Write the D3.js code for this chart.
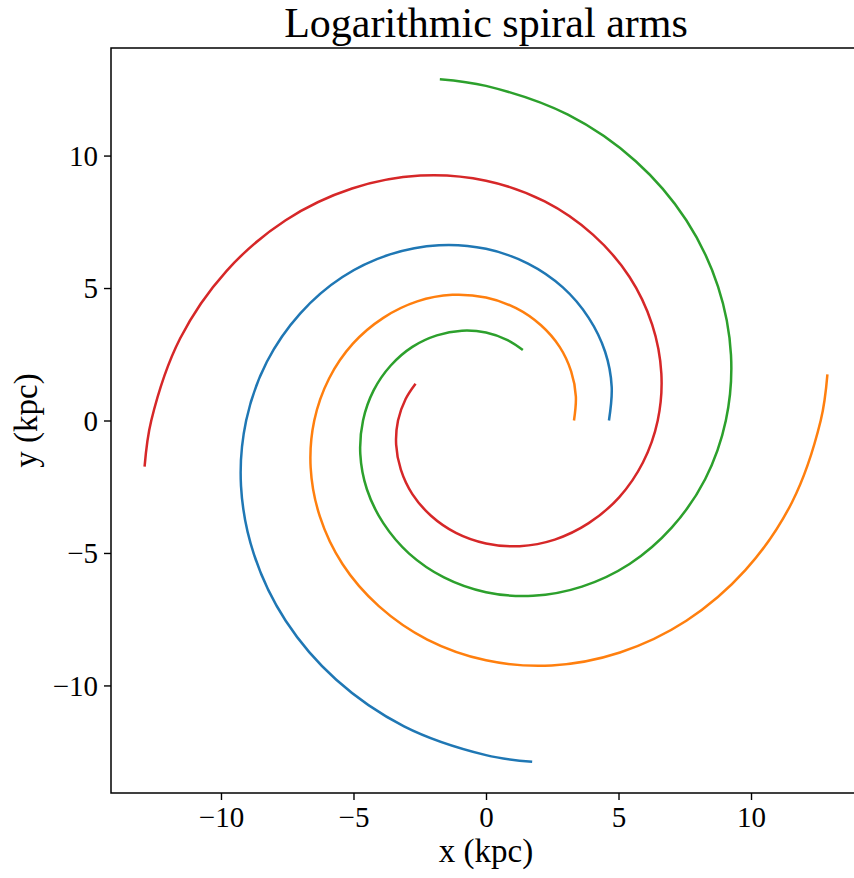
<!DOCTYPE html>
<html>
<head>
<meta charset="utf-8">
<script src="https://cdn.jsdelivr.net/npm/d3@7"></script>
<style>
  html, body { margin: 0; padding: 0; background: #fff; }
  svg { display: block; }
  text { font-family: "Liberation Serif", "Times New Roman", serif; fill: #000; }
</style>
</head>
<body>
<svg id="chart" width="854" height="878"></svg>
<script>
// ---- data (polar samples: angle in degrees, radius in kpc) ----
const armNames = ["arm 1", "arm 2", "arm 3", "arm 4"];
const armColors = ["#1f77b4", "#ff7f0e", "#2ca02c", "#d62728"];

const blueTheta = [0,15,30,45,60,75,90,105,120,135,150,165,180,195,210,225,240,255,270,277.7];
const blueR     = [4.64,4.91,5.19,5.48,5.80,6.13,6.48,6.85,7.24,7.66,8.09,8.56,9.05,9.57,10.11,10.69,11.30,11.95,12.63,13.00];

const orangeTheta = [0,15,30,45,60,75,90,105,120,135,150,165,180,195,210,225,240,255,270,285,300,315,330,345,360,367.7];
const orangeR     = [3.32,3.51,3.71,3.93,4.15,4.39,4.64,4.91,5.19,5.48,5.80,6.13,6.48,6.85,7.24,7.66,8.09,8.56,9.05,9.57,10.11,10.69,11.30,11.95,12.63,13.00];

const greenTheta = [62.4,75,90,105,120,135,150,165,180,195,210,225,240,255,270,285,300,315,330,345,360,375,390,405,420,435,450,457.7];
const greenR     = [3.00,3.14,3.32,3.51,3.71,3.93,4.15,4.39,4.64,4.91,5.19,5.48,5.80,6.13,6.48,6.85,7.24,7.66,8.09,8.56,9.05,9.57,10.11,10.69,11.30,11.95,12.63,13.00];

const redTheta = [152.4,165,180,195,210,225,240,255,270,285,300,315,330,345,360,375,390,405,420,435,450,465,480,495,510,525,540,547.7];
const redR     = [3.00,3.14,3.32,3.51,3.71,3.93,4.15,4.39,4.64,4.91,5.19,5.48,5.80,6.13,6.48,6.85,7.24,7.66,8.09,8.56,9.05,9.57,10.11,10.69,11.30,11.95,12.63,13.00];

const xTicks = [-10, -5, 0, 5, 10];
const yTicks = [-10, -5, 0, 5, 10];
const titleText = "Logarithmic spiral arms";
const xLabelText = "x (kpc)";
const yLabelText = "y (kpc)";

// ---- build arms as x/y points (polar -> cartesian) ----
const armThetas = [blueTheta, orangeTheta, greenTheta, redTheta];
const armRs = [blueR, orangeR, greenR, redR];
const arms = armThetas.map((th, i) => ({
  name: armNames[i],
  color: armColors[i],
  points: th.map((a, j) => {
    const rad = a * Math.PI / 180;
    return [armRs[i][j] * Math.cos(rad), armRs[i][j] * Math.sin(rad)];
  })
}));

// ---- layout ----
const L = 111, R = 861, T = 48, B = 793;
const x = d3.scaleLinear().domain([-14.15, 14.15]).range([L, R]);
const y = d3.scaleLinear().domain([-14.06, 14.06]).range([B, T]);

const svg = d3.select("#chart");
const fmt = d => d < 0 ? "\u2212" + Math.abs(d) : String(d);

svg.append("defs").append("clipPath").attr("id", "plotclip")
  .append("rect").attr("x", L).attr("y", T).attr("width", R - L).attr("height", B - T);

const line = d3.line().x(d => x(d[0])).y(d => y(d[1])).curve(d3.curveCatmullRom.alpha(0.5));

svg.append("g").attr("clip-path", "url(#plotclip)")
  .selectAll("path").data(arms).join("path")
  .attr("d", d => line(d.points))
  .attr("fill", "none")
  .attr("stroke", d => d.color)
  .attr("stroke-width", 2.5)
  .attr("stroke-linecap", "butt")
  .attr("stroke-linejoin", "round");

// axes
const xAxis = svg.append("g").attr("transform", `translate(0,${B})`)
  .call(d3.axisBottom(x).tickValues(xTicks).tickFormat(fmt).tickSize(7).tickPadding(6).tickSizeOuter(0));
const yAxis = svg.append("g").attr("transform", `translate(${L},0)`)
  .call(d3.axisLeft(y).tickValues(yTicks).tickFormat(fmt).tickSize(7).tickPadding(6).tickSizeOuter(0));
[xAxis, yAxis].forEach(g => {
  g.select(".domain").remove();
  g.selectAll(".tick line").attr("stroke", "#000").attr("stroke-width", 1.4);
  g.selectAll(".tick text").attr("font-family", "Liberation Serif, Times New Roman, serif")
    .attr("font-size", 29).attr("fill", "#000");
});
yAxis.selectAll(".tick text").attr("dy", "0.34em");
xAxis.selectAll(".tick text").attr("dy", "0.74em");

// spines (box)
svg.append("rect").attr("x", L).attr("y", T).attr("width", R - L).attr("height", B - T)
  .attr("fill", "none").attr("stroke", "#000").attr("stroke-width", 1.5);

// title and labels
svg.append("text").attr("x", (L + R) / 2).attr("y", 37).attr("text-anchor", "middle")
  .attr("font-size", 42).text(titleText);
svg.append("text").attr("x", (L + R) / 2).attr("y", 862).attr("text-anchor", "middle")
  .attr("font-size", 33).text(xLabelText);
svg.append("text").attr("transform", `translate(37,${(T + B) / 2}) rotate(-90)`)
  .attr("text-anchor", "middle").attr("font-size", 33).text(yLabelText);
</script>
</body>
</html>
